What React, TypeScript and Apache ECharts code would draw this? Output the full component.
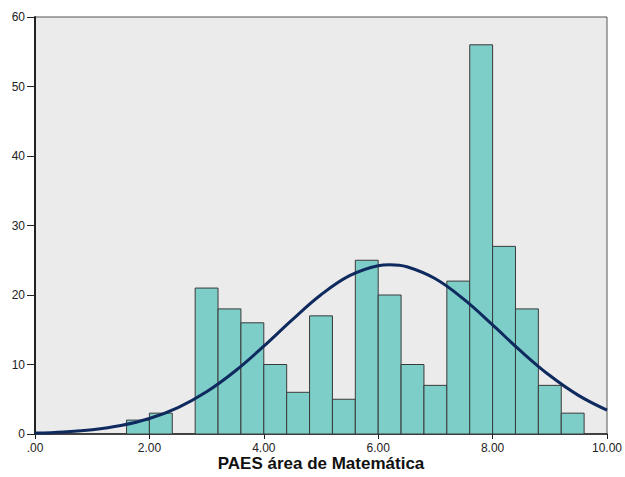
import React, { useEffect, useRef } from "react";
import * as echarts from "echarts";

// Histogram bins: [start, end, count]
const binStarts = [1.6, 2.0, 2.4, 2.8, 3.2, 3.6, 4.0, 4.4, 4.8, 5.2, 5.6, 6.0, 6.4, 6.8, 7.2, 7.6, 8.0, 8.4, 8.8, 9.2];
const binWidth = 0.4;
const binCounts = [2, 3, 0, 21, 18, 16, 10, 6, 17, 5, 25, 20, 10, 7, 22, 56, 27, 18, 7, 3];

// Normal curve
const curveX = [0, 0.5, 1.0, 1.5, 2.0, 2.5, 3.0, 3.5, 4.0, 4.5, 5.0, 5.5, 6.0, 6.2, 6.5, 7.0, 7.5, 8.0, 8.5, 9.0, 9.5, 10.0];
const curveY = [0.13, 0.3, 0.62, 1.22, 2.23, 3.8, 6.07, 9.06, 12.63, 16.45, 20.03, 22.78, 24.22, 24.35, 24.06, 22.33, 19.36, 15.69, 11.88, 8.41, 5.56, 3.44];

const xTicks = [0, 2, 4, 6, 8, 10];
const xLabels = [".00", "2.00", "4.00", "6.00", "8.00", "10.00"];
const xTitle = "PAES área de Matemática";

export default function App() {
  const ref = useRef<HTMLDivElement>(null);
  useEffect(() => {
    if (!ref.current) return;
    const chart = echarts.init(ref.current, null, { renderer: "svg" });
    const barData = binStarts
      .map((s, i) => [s, s + binWidth, binCounts[i]])
      .filter((d) => d[2] > 0);
    const font = "'Liberation Sans', Arial, sans-serif";
    chart.setOption({
      animation: false,
      backgroundColor: "#ffffff",
      grid: {
        left: 35,
        right: 18,
        top: 17,
        bottom: 43,
        containLabel: false,
        outerBoundsMode: "none",
        show: true,
        backgroundColor: "#ebebeb",
        borderColor: "#555555",
        borderWidth: 1,
      },
      xAxis: {
        type: "value",
        min: 0,
        max: 10,
        interval: 2,
        name: xTitle,
        nameLocation: "middle",
        nameMoveOverlap: false,
        nameGap: 21,
        nameTextStyle: { fontFamily: font, fontSize: 17, fontWeight: "bold", color: "#111", verticalAlign: "top" },
        axisLine: { show: true, onZero: false, lineStyle: { color: "#222", width: 1.5 } },
        axisTick: { show: true, length: 5, lineStyle: { color: "#222", width: 1 } },
        splitLine: { show: false },
        axisLabel: {
          fontFamily: font,
          fontSize: 12,
          color: "#222",
          margin: 8,
          formatter: (v: number) => {
            const i = xTicks.indexOf(v);
            return i >= 0 ? xLabels[i] : "";
          },
        },
      },
      yAxis: {
        type: "value",
        min: 0,
        max: 60,
        interval: 10,
        axisLine: { show: true, lineStyle: { color: "#222", width: 2 } },
        axisTick: { show: true, length: 8, lineStyle: { color: "#222", width: 1 } },
        splitLine: { show: false },
        axisLabel: { fontFamily: font, fontSize: 12, color: "#222", margin: 10 },
      },
      series: [
        {
          type: "custom",
          data: barData,
          encode: { x: [0, 1], y: 2 },
          renderItem: (params: any, api: any) => {
            const p0 = api.coord([api.value(0), api.value(2)]);
            const p1 = api.coord([api.value(1), 0]);
            return {
              type: "rect",
              shape: { x: p0[0], y: p0[1], width: p1[0] - p0[0], height: p1[1] - p0[1] },
              style: { fill: "#7dcdc8", stroke: "#3a3a3a", lineWidth: 1 },
            };
          },
          z: 2,
        },
        {
          type: "line",
          data: curveX.map((x, i) => [x, curveY[i]]),
          smooth: 0.4,
          showSymbol: false,
          symbol: "none",
          lineStyle: { color: "#0f2a5e", width: 3 },
          z: 3,
        },
      ],
    });
    return () => chart.dispose();
  }, []);
  return (
    <div
      ref={ref}
      style={{ position: "fixed", left: 0, top: 0, width: 625, height: 477 }}
    />
  );
}
